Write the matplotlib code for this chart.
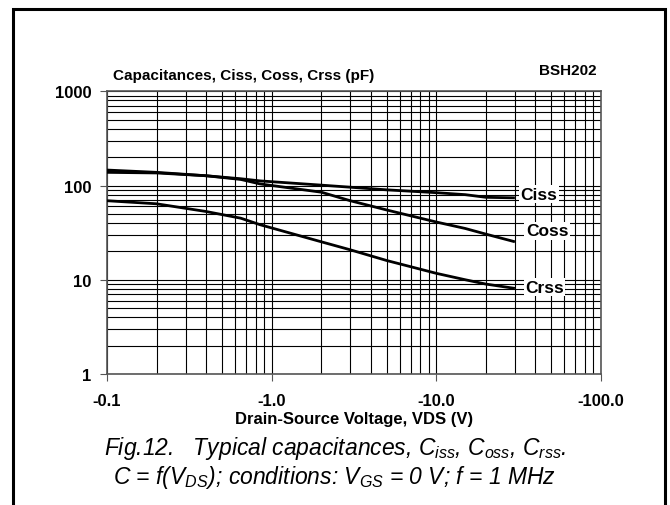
import matplotlib
matplotlib.use("Agg")
import matplotlib.pyplot as plt
from matplotlib import font_manager
from matplotlib.patches import Rectangle
from matplotlib.ticker import FixedLocator, NullFormatter

# drain-source voltage magnitude (V) and capacitances (pF)
vds = [0.1, 0.2, 0.4, 0.65, 0.85, 2.0, 3.0, 5.0, 10.0, 15.0, 20.0, 30.0]
ciss = [138, 136, 127, 118, 112, 101, 96, 90, 84, 80, 75, 74]
coss = [146, 138, 127, 116, 104, 85, 69, 55, 41, 35, 30.5, 25.3]
crss = [69, 64, 53, 45, 38.4, 25.3, 20.8, 16, 11.7, 10, 9, 8.1]

x_ticks = [0.1, 1, 10, 100]
x_labels = ["-0.1", "-1.0", "-10.0", "-100.0"]
y_ticks = [1, 10, 100, 1000]
y_labels = ["1", "10", "100", "1000"]

names = {f.name for f in font_manager.fontManager.ttflist}
cap_font = "Liberation Sans Narrow" if "Liberation Sans Narrow" in names else "Liberation Sans"
plt.rcParams["font.family"] = ["Liberation Sans", "DejaVu Sans"]
plt.rcParams["mathtext.fontset"] = "custom"
plt.rcParams["mathtext.it"] = cap_font + ":italic"
plt.rcParams["mathtext.rm"] = cap_font + ":italic"

fig = plt.figure(figsize=(6.7, 5.06), dpi=100)
ax = fig.add_axes([107 / 670, 1 - 375 / 506, 494 / 670, 282.7 / 506])

for c in (ciss, coss, crss):
    ax.plot(vds, c, color="black", lw=2, solid_capstyle="butt", zorder=3)

ax.set_xscale("log")
ax.set_yscale("log")
ax.set_xlim(0.1, 100)
ax.set_ylim(1, 1000)

ax.xaxis.set_major_locator(FixedLocator(x_ticks))
ax.yaxis.set_major_locator(FixedLocator(y_ticks))
ax.set_xticklabels(x_labels, fontsize=12, fontweight="bold")
ax.set_yticklabels(y_labels, fontsize=12, fontweight="bold")
ax.xaxis.set_minor_formatter(NullFormatter())
ax.yaxis.set_minor_formatter(NullFormatter())
ax.tick_params(which="major", length=5, width=0.8, color="#555555")
ax.tick_params(axis="y", pad=6)
ax.tick_params(axis="x", pad=9)
ax.tick_params(which="minor", length=0)
ax.grid(True, which="both", color="black", lw=0.8)
for s in ax.spines.values():
    s.set_color("#555555")
    s.set_linewidth(1.2)

ax.set_xlabel("Drain-Source Voltage, VDS (V)", fontsize=12, fontweight="bold", labelpad=2)

# curve labels with white background
lab_kw = dict(fontsize=12.5, fontweight="bold", ha="center", va="center", zorder=4,
              bbox=dict(facecolor="white", edgecolor="none", pad=1))
ax.text(42, 81, "Ciss", **lab_kw)
ax.text(47, 33, "Coss", **lab_kw)
ax.text(45.5, 8.36, "Crss", **lab_kw)

fig.text(113 / 670, 1 - 76 / 506, "Capacitances, Ciss, Coss, Crss (pF)",
         fontsize=11, fontweight="bold", ha="left", va="center")
fig.text(597 / 670, 1 - 71 / 506, "BSH202", fontsize=11, fontweight="bold",
         ha="right", va="center")

fig.text(0.5, 1 - 449 / 506,
         r"Fig.12.   Typical capacitances, $C_{iss}$, $C_{oss}$, $C_{rss}$.",
         fontsize=16.5, family=cap_font, style="italic", ha="center", va="center")
fig.text(0.5, 1 - 478 / 506,
         r"$C$ = f($V_{DS}$); conditions: $V_{GS}$ = 0 V; f = 1 MHz",
         fontsize=16.5, family=cap_font, style="italic", ha="center", va="center")

# frame around the figure, open at the bottom
fig.patches.append(Rectangle((13 / 670, -0.05), 652 / 670, 1.05 - 9.5 / 506,
                             transform=fig.transFigure, fill=False,
                             edgecolor="black", lw=2.2))

fig.savefig("out.png", dpi=100)
